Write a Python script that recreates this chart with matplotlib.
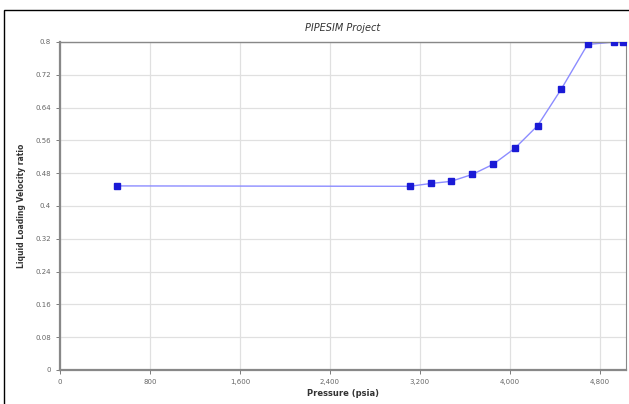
# PIPESIM Project: liquid loading velocity ratio vs pressure
import matplotlib
matplotlib.use("Agg")
import matplotlib.pyplot as plt
from matplotlib.patches import Rectangle
from matplotlib.ticker import FuncFormatter

pressure = [507, 3110, 3300, 3476, 3668, 3855, 4047, 4249, 4459, 4693, 4931, 5007]
ratio = [0.449, 0.448, 0.455, 0.460, 0.477, 0.502, 0.541, 0.596, 0.685, 0.794, 0.800, 0.800]
x_ticks = [0, 800, 1600, 2400, 3200, 4000, 4800]
y_ticks = [0, 0.08, 0.16, 0.24, 0.32, 0.4, 0.48, 0.56, 0.64, 0.72, 0.8]

fig = plt.figure(figsize=(6.29, 4.04), dpi=100)
ax = fig.add_axes([60/629, 1 - 370/404, 566/629, 328/404])

# outer frame of the exported chart window
fig.patches.append(Rectangle((4/629, -0.05), 1.1, 1 - 10/404 + 0.05,
                             transform=fig.transFigure, fill=False,
                             edgecolor='black', linewidth=1.0))

ax.plot(pressure, ratio, color='#8c8cff', linewidth=1.0, zorder=2)
ax.plot(pressure, ratio, linestyle='none', marker='s', markersize=5,
        markerfacecolor='#1a1ad6', markeredgecolor='#1a1ad6', zorder=3)

ax.set_xlim(0, 5035)
ax.set_ylim(0, 0.8)
ax.set_xticks(x_ticks)
ax.set_yticks(y_ticks)
ax.xaxis.set_major_formatter(FuncFormatter(lambda v, p: f"{int(v):,}"))
ax.yaxis.set_major_formatter(FuncFormatter(lambda v, p: f"{v:g}"))
ax.tick_params(labelsize=5, colors='#666666', length=3, width=0.6)
ax.grid(True, color='#e0e0e0', linewidth=0.9, linestyle='-')
ax.set_axisbelow(True)
for side in ['left', 'bottom', 'top', 'right']:
    ax.spines[side].set_color('#888888')
ax.spines['left'].set_linewidth(1.6)
ax.spines['bottom'].set_linewidth(1.6)
ax.spines['top'].set_linewidth(1.0)
ax.spines['right'].set_linewidth(0.8)

ax.set_title("PIPESIM Project", fontsize=7, style='italic', color='#333333', pad=8)
ax.set_xlabel("Pressure (psia)", fontsize=6, fontweight='bold', color='#333333', labelpad=3)
ax.set_ylabel("Liquid Loading Velocity ratio", fontsize=5.5, fontweight='bold',
              color='#333333', labelpad=7)

fig.savefig("out.png", dpi=100)
